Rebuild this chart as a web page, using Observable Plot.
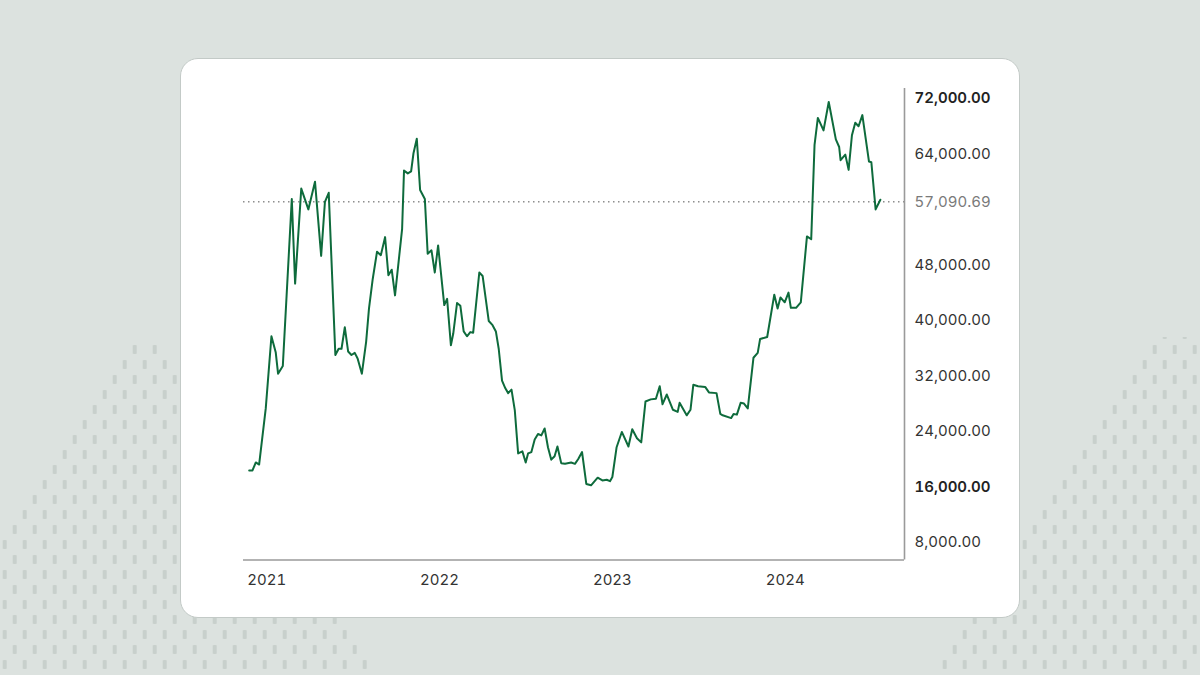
<!DOCTYPE html>
<html>
<head>
<meta charset="utf-8">
<script src="https://cdn.jsdelivr.net/npm/d3@7"></script>
<script src="https://cdn.jsdelivr.net/npm/@observablehq/plot@0.6"></script>
<style>
  html, body { margin: 0; padding: 0; }
  #page { position: relative; width: 1200px; height: 675px; background: #dce2df; overflow: hidden; font-family: Inter, "Open Sans", sans-serif; }
  #bg { position: absolute; left: 0; top: 0; }
  #card { position: absolute; left: 180px; top: 58px; width: 838px; height: 558px; background: #fff; border: 1px solid #c3cac7; border-radius: 18px; }
  #chart { position: absolute; left: 181px; top: 59px; }
</style>
</head>
<body>
<div id="page">
  <svg id="bg" width="1200" height="675">
    <defs>
      <pattern id="marks" patternUnits="userSpaceOnUse" x="2.7" y="0" width="20" height="30">
        <rect x="0" y="0" width="4" height="9" rx="1" fill="#c8d0cc"/>
        <rect x="10" y="15" width="4" height="9" rx="1" fill="#c8d0cc"/>
      </pattern>
      <clipPath id="mountains">
        <polygon points="0,540 131,343 159,343 380,675 0,675"/>
        <polygon points="930,675 1141,358 1155,337 1200,337 1200,675"/>
      </clipPath>
    </defs>
    <rect width="1200" height="675" fill="url(#marks)" clip-path="url(#mountains)"/>
  </svg>
  <div id="card"></div>
  <div id="chart"></div>
</div>
<script>
// Weekly BTC price (USD)
const dates = [
  "2020-11-25","2020-12-02","2020-12-09","2020-12-16","2020-12-30",
  "2021-01-11","2021-01-20","2021-01-25","2021-02-04","2021-02-23","2021-03-02","2021-03-15","2021-03-30",
  "2021-04-13","2021-04-26","2021-05-04","2021-05-12","2021-05-26","2021-06-02","2021-06-08","2021-06-15",
  "2021-06-22","2021-06-29","2021-07-06","2021-07-12","2021-07-21","2021-07-30","2021-08-05","2021-08-13",
  "2021-08-22","2021-08-30","2021-09-08","2021-09-15","2021-09-22","2021-09-29","2021-10-14","2021-10-18",
  "2021-10-26","2021-11-02","2021-11-07","2021-11-14","2021-11-21","2021-12-01","2021-12-07","2021-12-15",
  "2021-12-22","2021-12-29",
  "2022-01-11","2022-01-17","2022-01-25","2022-01-30","2022-02-07","2022-02-14","2022-02-21","2022-02-28",
  "2022-03-07","2022-03-13","2022-03-26","2022-04-02","2022-04-15","2022-04-23","2022-04-30","2022-05-06",
  "2022-05-13","2022-05-20","2022-05-26","2022-06-02","2022-06-09","2022-06-16","2022-06-25","2022-07-02",
  "2022-07-07","2022-07-14","2022-07-21","2022-07-28","2022-08-04","2022-08-11","2022-08-18","2022-08-25",
  "2022-09-01","2022-09-07","2022-09-15","2022-09-23","2022-10-06","2022-10-14","2022-10-21","2022-10-29",
  "2022-11-07","2022-11-17","2022-12-01","2022-12-11","2022-12-20","2022-12-27",
  "2023-01-01","2023-01-10","2023-01-21","2023-02-04","2023-02-12","2023-02-22","2023-03-03","2023-03-12",
  "2023-03-23","2023-04-03","2023-04-11","2023-04-17","2023-04-26","2023-05-09","2023-05-19","2023-05-23",
  "2023-06-07","2023-06-15","2023-06-21","2023-07-01","2023-07-16","2023-07-24","2023-08-09","2023-08-17",
  "2023-08-22","2023-09-09","2023-09-14","2023-09-21","2023-09-29","2023-10-06","2023-10-14","2023-10-26",
  "2023-11-04","2023-11-09","2023-11-24","2023-12-09","2023-12-16","2023-12-22","2023-12-31",
  "2024-01-08","2024-01-13","2024-01-24","2024-02-03","2024-02-16","2024-02-25","2024-03-03","2024-03-10",
  "2024-03-22","2024-04-02","2024-04-17","2024-04-24","2024-04-27","2024-05-07","2024-05-14","2024-05-21",
  "2024-05-28","2024-06-04","2024-06-12","2024-06-26","2024-07-01","2024-07-10","2024-07-20"
];
const prices = [
  18350,18350,19500,19200,27300,
  37700,35400,32300,33400,57500,45300,59000,56000,
  60000,49300,57100,58400,35000,35900,35900,39000,
  35500,35000,35300,34500,32300,36900,41700,46000,
  49900,49400,52000,46500,47300,43600,53200,61600,
  61200,61500,64100,66200,58800,57500,49600,50100,
  46900,50800,
  42200,43100,36400,38100,42500,42100,38400,37700,
  38300,38200,46900,46400,39900,39300,38400,35900,
  31300,30200,29500,30000,27000,20800,21100,19500,
  20800,21000,22800,23600,23400,24400,21700,19900,
  20400,21800,19400,19300,19500,19300,20000,21000,
  16400,16200,17300,16900,17000,16800,
  17400,21700,23900,21800,24300,23000,22400,28300,
  28600,28700,30500,27900,29300,27100,26800,28100,
  26300,27100,30700,30500,30400,29600,29500,26500,
  26300,25900,26500,26400,28100,28000,27300,34600,
  35300,37300,37600,43700,41700,43300,42600,
  44000,41800,41800,42600,52100,51700,65300,69200,
  67400,71500,66100,65000,63100,63900,61700,66700,
  68500,68000,69600,62900,62800,56000,57400
];
const yearTicks = ["2021-01-01","2022-01-01","2023-01-01","2024-01-01"];
const regularTicks = [8000, 24000, 32000, 40000, 48000, 64000];
const boldTicks = [16000, 72000];
const currentPrice = 57090.69;

const data = dates.map((d, i) => ({date: new Date(d), price: prices[i]}));
const yDomain = [5430, 73440];
const xDomain = [new Date("2020-11-13"), new Date("2024-09-09")];
const fmt = d => d.toLocaleString("en-US", {minimumFractionDigits: 2, maximumFractionDigits: 2});

const chart = Plot.plot({
  width: 838,
  height: 558,
  marginLeft: 62,
  marginRight: 115,
  marginTop: 29,
  marginBottom: 57.5,
  style: {fontFamily: "Inter, 'Open Sans', sans-serif", fontSize: "15px", background: "transparent", overflow: "visible"},
  x: {type: "utc", domain: xDomain},
  y: {domain: yDomain},
  marks: [
    Plot.ruleY([currentPrice], {stroke: "#555", strokeWidth: 1, strokeDasharray: "1.5,3.5"}),
    Plot.lineY(data, {x: "date", y: "price", stroke: "#0e6b3c", strokeWidth: 2, strokeLinejoin: "round"}),
    Plot.ruleY([yDomain[0]], {stroke: "#9a9a9a", strokeWidth: 1.6}),
    Plot.ruleX([xDomain[1]], {stroke: "#9a9a9a", strokeWidth: 1.6}),
    Plot.axisX(yearTicks.map(d => new Date(d)), {tickSize: 0, tickPadding: 14, tickFormat: "%Y", fontSize: 15, fill: "#333", label: null}),
    Plot.axisY(regularTicks, {anchor: "right", tickSize: 0, tickPadding: 10, tickFormat: fmt, fontSize: 15, fill: "#333", label: null}),
    Plot.axisY(boldTicks, {anchor: "right", tickSize: 0, tickPadding: 10, tickFormat: fmt, fontSize: 15, fontWeight: 600, fill: "#222", label: null}),
    Plot.axisY([currentPrice], {anchor: "right", tickSize: 0, tickPadding: 10, tickFormat: fmt, fontSize: 15, fill: "#7a7a7a", label: null})
  ]
});
document.getElementById("chart").appendChild(chart);
</script>
</body>
</html>
